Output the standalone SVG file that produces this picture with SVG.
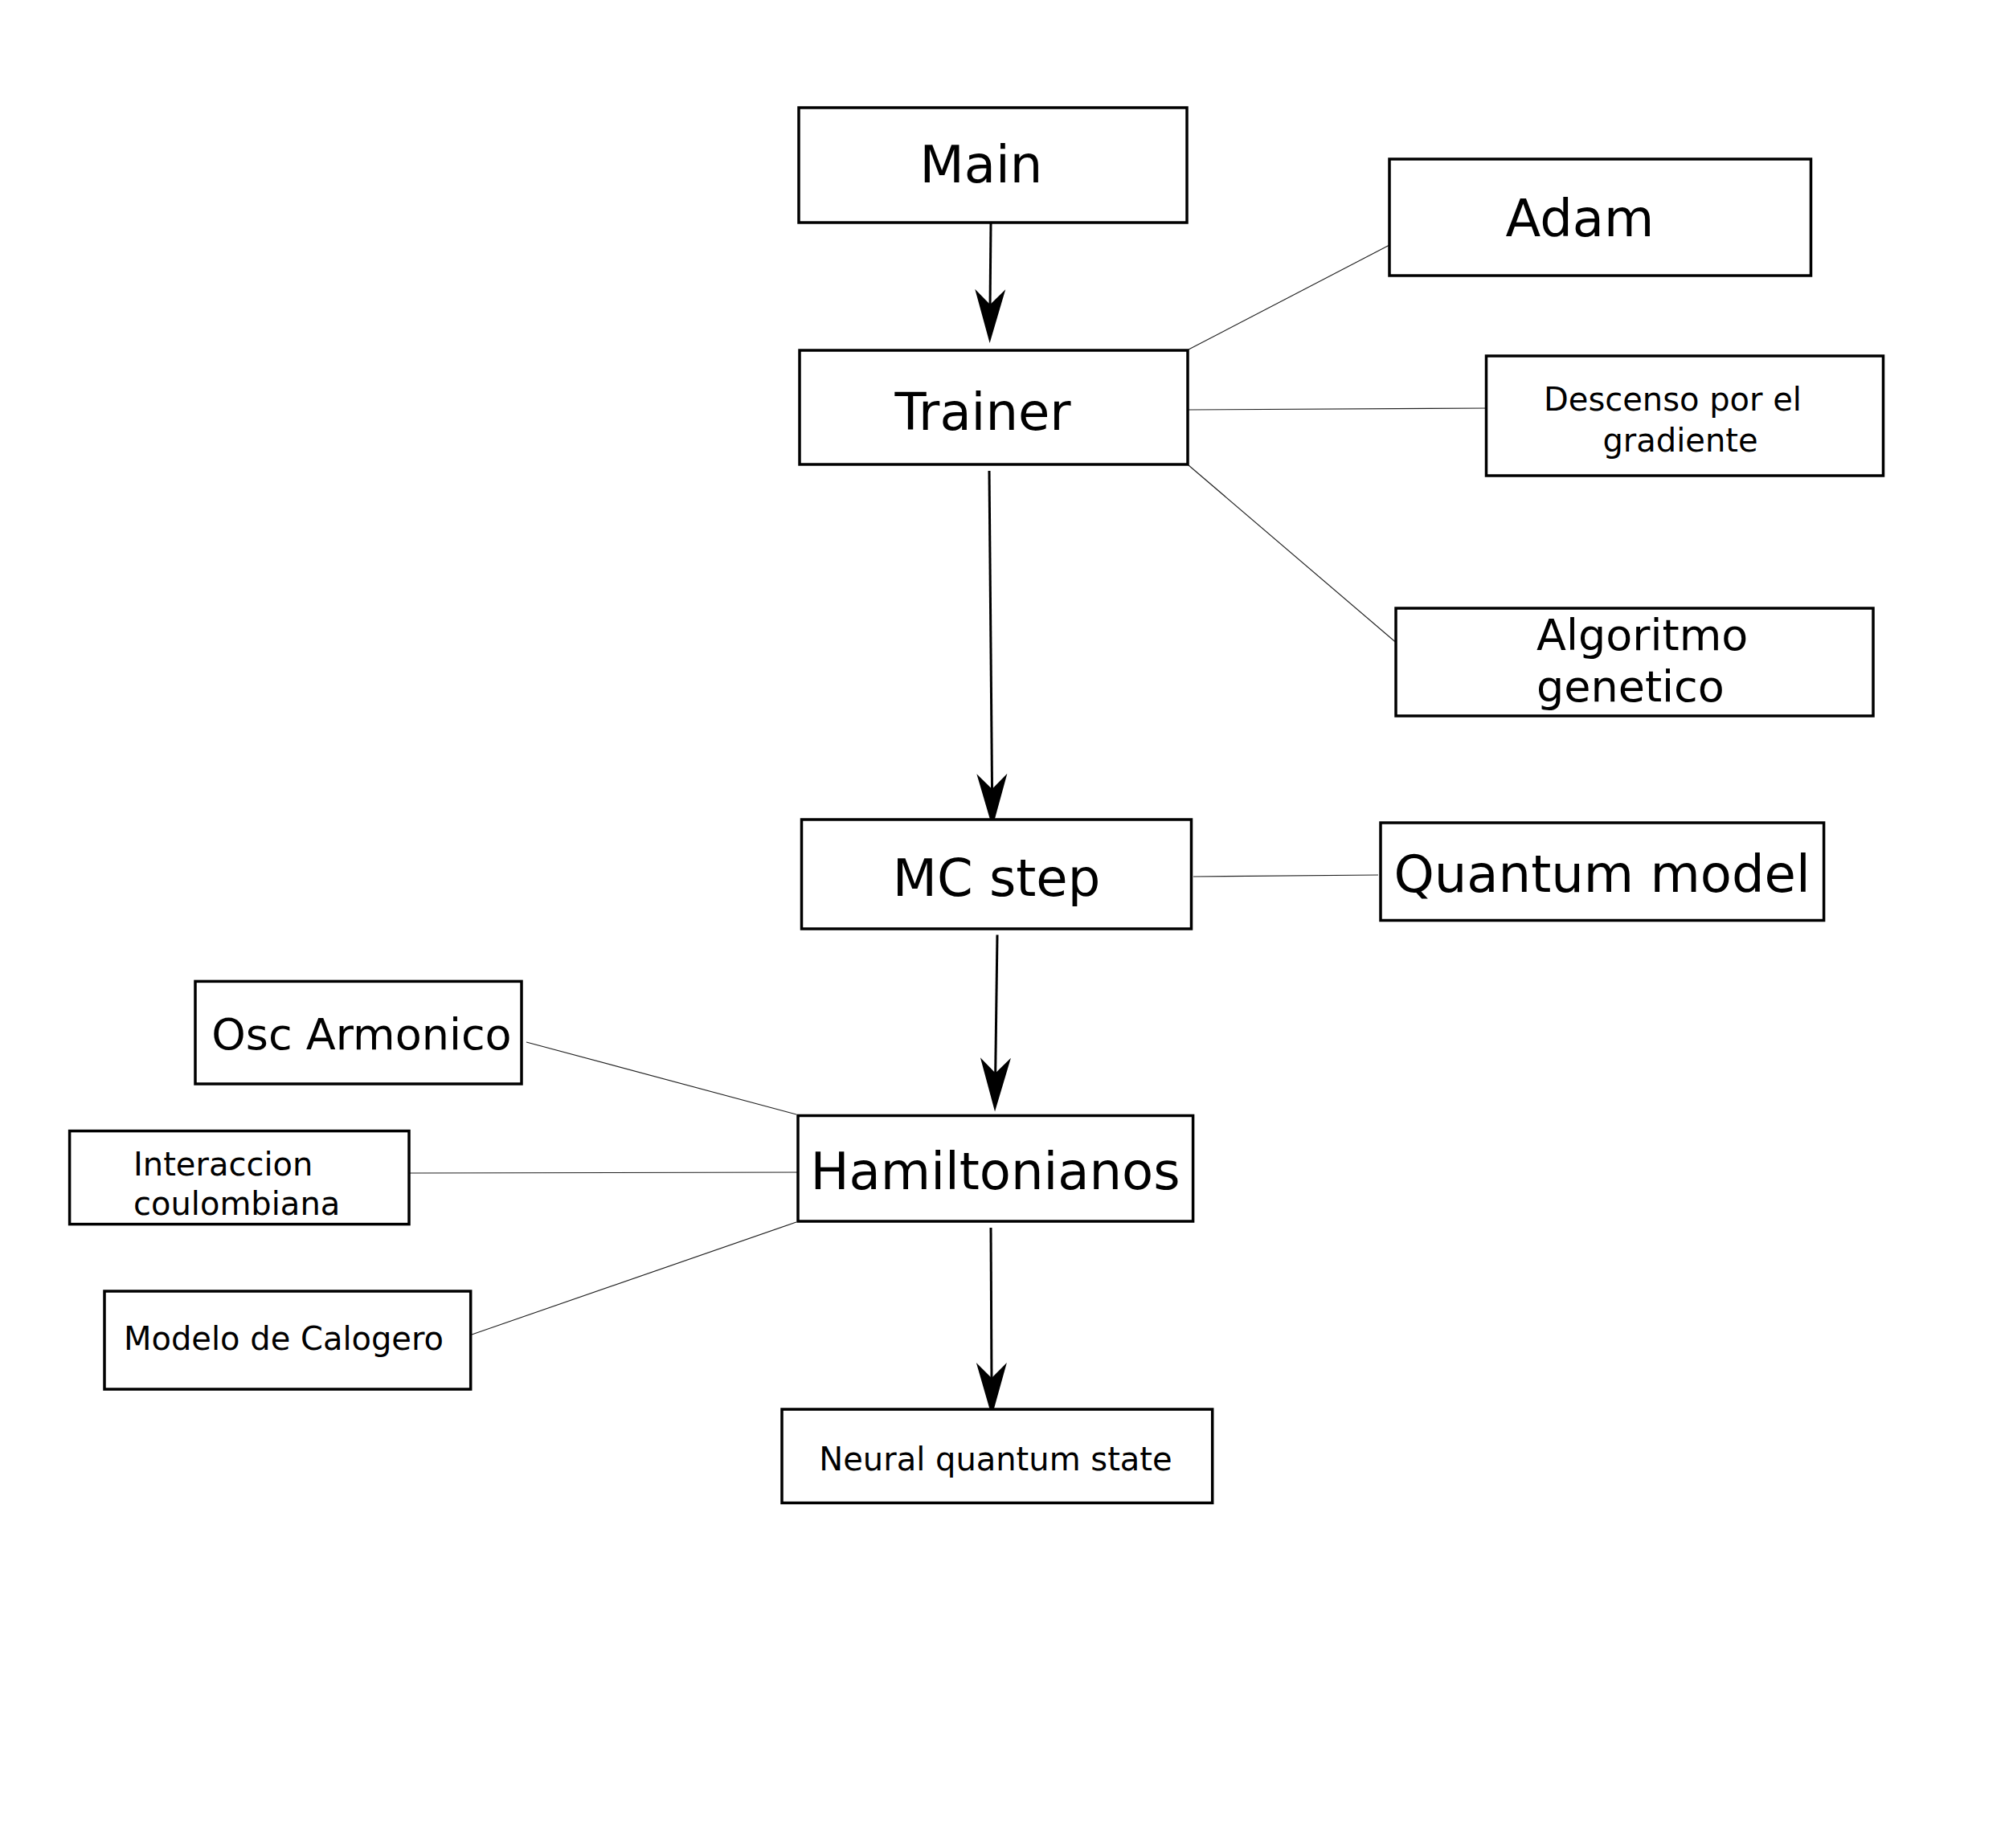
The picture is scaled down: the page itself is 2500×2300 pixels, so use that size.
<svg xmlns="http://www.w3.org/2000/svg" width="2500" height="2300" viewBox="0 0 2500 2300">
<style>
.box{fill:#fff;stroke:#000;stroke-width:3.5}
.t{font-family:"DejaVu Sans","Liberation Sans",sans-serif;fill:#000}
.big{font-size:64px}
.mid{font-size:54px}
.sm{font-size:40px}
.thin{stroke:#222;stroke-width:1.2;fill:none}
.arrow{stroke:#000;stroke-width:3;fill:none;marker-end:url(#ah)}
</style>
<defs>
<marker id="ah" markerUnits="userSpaceOnUse" viewBox="-26 -20 70 40" refX="0" refY="0" markerWidth="70" markerHeight="40" orient="auto">
<path d="M42,0 L-25,-19 L-6,0 L-25,19 Z" fill="#000"/>
</marker>
</defs>
<rect width="2500" height="2300" fill="#fff"/>
<g id="connectors">
<line class="thin" x1="1479" y1="435" x2="1729" y2="305"/>
<line class="thin" x1="1479" y1="510" x2="1855" y2="508"/>
<line class="thin" x1="1479" y1="579" x2="1747" y2="808"/>
<line class="thin" x1="1485" y1="1091" x2="1715" y2="1089"/>
<line class="thin" x1="655" y1="1297" x2="991" y2="1387"/>
<line class="thin" x1="510" y1="1460" x2="995" y2="1459"/>
<line class="thin" x1="587" y1="1661" x2="991" y2="1521"/>
<line class="arrow" x1="1233" y1="278" x2="1232" y2="385"/>
<line class="arrow" x1="1231" y1="586" x2="1234.6" y2="988"/>
<line class="arrow" x1="1241" y1="1163.5" x2="1238.6" y2="1341.6"/>
<line class="arrow" x1="1233" y1="1528" x2="1234" y2="1721"/>
</g>
<g id="main">
<rect class="box" x="994" y="134" width="483" height="143"/>
<text class="t big" x="1221" y="227" text-anchor="middle">Main</text>
</g>
<g id="trainer">
<rect class="box" x="995" y="436" width="483" height="142"/>
<text class="t big" x="1223" y="535" text-anchor="middle">Trainer</text>
</g>
<g id="adam">
<rect class="box" x="1729" y="198" width="524.5" height="145"/>
<text class="t big" x="1966" y="293.5" text-anchor="middle">Adam</text>
</g>
<g id="descenso">
<rect class="box" x="1849.5" y="443" width="494" height="149"/>
<text class="t sm" x="2081.5" y="511" text-anchor="middle">Descenso por el</text>
<text class="t sm" x="2091" y="562" text-anchor="middle">gradiente</text>
</g>
<g id="algoritmo">
<rect class="box" x="1737" y="757" width="594" height="134"/>
<text class="t mid" x="1912" y="808.5">Algoritmo</text>
<text class="t mid" x="1912" y="873">genetico</text>
</g>
<g id="mcstep">
<rect class="box" x="997.5" y="1020" width="485" height="136"/>
<text class="t big" x="1240" y="1114.6" text-anchor="middle">MC step</text>
</g>
<g id="quantum">
<rect class="box" x="1718" y="1024" width="551.6" height="121.5"/>
<text class="t big" x="1993.6" y="1110" text-anchor="middle">Quantum model</text>
</g>
<g id="osc">
<rect class="box" x="243" y="1221.4" width="406" height="127.6"/>
<text class="t mid" x="450" y="1306" text-anchor="middle">Osc Armonico</text>
</g>
<g id="interaccion">
<rect class="box" x="86.6" y="1407.6" width="422.4" height="116"/>
<text class="t sm" x="166" y="1462.5">Interaccion</text>
<text class="t sm" x="166" y="1511.6">coulombiana</text>
</g>
<g id="modelo">
<rect class="box" x="130" y="1607" width="455.7" height="122"/>
<text class="t sm" x="353" y="1680" text-anchor="middle">Modelo de Calogero</text>
</g>
<g id="hamiltonianos">
<rect class="box" x="993" y="1388.5" width="491.6" height="131.5"/>
<text class="t big" x="1238.5" y="1480" text-anchor="middle">Hamiltonianos</text>
</g>
<g id="neural">
<rect class="box" x="973" y="1754" width="535.7" height="116.5"/>
<text class="t sm" x="1239" y="1830" text-anchor="middle">Neural quantum state</text>
</g>
</svg>
